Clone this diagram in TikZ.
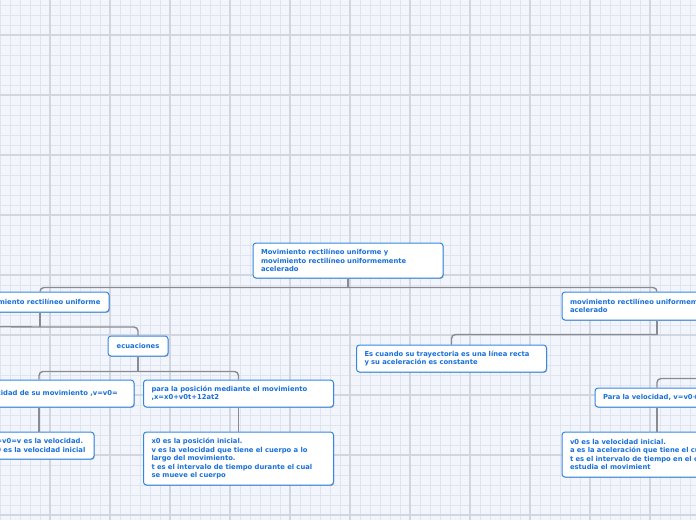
\documentclass[tikz,border=0pt]{standalone}
\usepackage{fontspec}
\newfontfamily\mapfont{DejaVu Sans}
\usetikzlibrary{shadows}

\definecolor{paper}{RGB}{242,245,252}
\definecolor{minorgrid}{RGB}{224,228,238}
\definecolor{majorgrid}{RGB}{210,214,225}
\definecolor{boxblue}{RGB}{50,135,228}
\definecolor{textblue}{RGB}{25,112,218}
\definecolor{linkgray}{RGB}{138,138,146}

\begin{document}
\begin{tikzpicture}[
    x=1pt, y=-1pt,
    topic/.style={draw=boxblue, line width=1pt, fill=white, rounded corners=3pt,
        text=textblue, align=left, text width=174pt, inner xsep=8pt, inner ysep=0pt,
        font=\mapfont\bfseries\fontsize{6.8}{8.5}\selectfont,
        drop shadow={shadow xshift=0.7pt, shadow yshift=-0.9pt, opacity=0.25, fill=black}},
    short/.style={text width=, align=center},
    link/.style={draw=linkgray, line width=1.4pt, rounded corners=4pt},
    minorline/.style={draw=minorgrid, line width=0.9pt},
    majorline/.style={draw=majorgrid, line width=1.1pt}
]
    \clip (0,0) rectangle (696,520);

    % Paper grid
    \fill[paper] (0,0) rectangle (696,520);
    \foreach \gx in {0,10,...,690} \draw[minorline] (\gx,0) -- (\gx,520);
    \foreach \gy in {5,15,...,515} \draw[minorline] (0,\gy) -- (696,\gy);
    \foreach \gx in {50,110,...,650} \draw[majorline] (\gx,0) -- (\gx,520);
    \foreach \gy in {35,95,...,515} \draw[majorline] (0,\gy) -- (696,\gy);

    % Define Nodes
    \node[topic, minimum height=35pt] (root) at (348,260.5)
        {Movimiento rectilíneo uniforme y\\movimiento rectilíneo uniformemente\\acelerado};
    \node[topic, short, minimum width=138pt, minimum height=20pt] (lmru) at (40,302)
        {Movimiento rectilíneo uniforme};
    \node[topic, minimum height=28pt] (rmrua) at (657,306)
        {movimiento rectilíneo uniformemente\\acelerado};
    \node[topic, short, minimum width=60pt, minimum height=20pt] (ecu) at (138,346)
        {ecuaciones};
    \node[topic, minimum height=27pt] (vel) at (39,393.5)
        {Para la velocidad de su movimiento ,v=v0=};
    \node[topic, minimum height=27pt] (pos) at (238.5,393.5)
        {para la posición mediante el movimiento\\,x=x0+v0t+12at2};
    \node[topic, text width=94pt, minimum height=27pt] (velnote) at (39,445.5)
        {v=v0=v es la velocidad.\\v0 es la velocidad inicial};
    \node[topic, minimum height=53pt] (posnote) at (238.5,458.5)
        {x0 es la posición inicial.\\v es la velocidad que tiene el cuerpo a lo\\largo del movimiento.\\t es el intervalo de tiempo durante el cual\\se mueve el cuerpo};
    \node[topic, minimum height=27pt] (tray) at (451.5,358.5)
        {Es cuando su trayectoria es una línea recta\\y su aceleración es constante};
    \node[topic, text width=108pt, minimum height=19pt] (velua) at (657,397.5)
        {Para la velocidad, v=v0+at};
    \node[topic, minimum height=45pt] (veluanote) at (657,454.5)
        {v0 es la velocidad inicial.\\a es la aceleración que tiene el cuerpo.\\t es el intervalo de tiempo en el cual se\\estudia el movimient};

    \coordinate (offleft) at (-30,326.5);
    \coordinate (offright) at (730,378.5);

    % Draw Edges
    \draw[link] (root.south) -- ++(0,9) coordinate (rootbus);
    \draw[link] (rootbus) -| (lmru.north);
    \draw[link] (rootbus) -| (rmrua.north);

    \draw[link] (lmru.south) -- ++(0,14.5) coordinate (lmrubus);
    \draw[link] (lmrubus) -| (ecu.north);
    \draw[link] (lmrubus) -- (offleft);

    \draw[link] (ecu.south) -- ++(0,15) coordinate (ecubus);
    \draw[link] (ecubus) -| (vel.north);
    \draw[link] (ecubus) -| (pos.north);
    \draw[link] (vel) -- (velnote);
    \draw[link] (pos) -- (posnote);

    \draw[link] (rmrua.south) -- ++(0,14) coordinate (rbus);
    \draw[link] (rbus) -| (tray.north);
    \draw[link] (offright) -| (velua.north);
    \draw[link] (velua) -- (veluanote);
\end{tikzpicture}
\end{document}
